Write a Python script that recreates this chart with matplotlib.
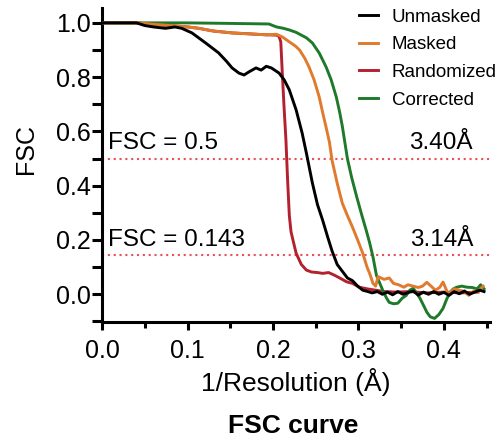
import matplotlib
matplotlib.use("Agg")
import matplotlib.pyplot as plt
from matplotlib.ticker import MultipleLocator

plt.rcParams['font.family'] = ['Liberation Sans', 'DejaVu Sans']

# ---- data ----
unmasked_x = [0, 0.04, 0.05, 0.06, 0.074, 0.085, 0.093, 0.105, 0.121, 0.136, 0.145, 0.152, 0.16,
              0.166, 0.172, 0.18, 0.186, 0.192, 0.198, 0.207, 0.213, 0.219, 0.227, 0.234, 0.239,
              0.246, 0.252, 0.258, 0.264, 0.269, 0.275, 0.281, 0.287, 0.293, 0.299, 0.305, 0.311,
              0.316, 0.322, 0.328, 0.334, 0.34, 0.346, 0.352, 0.358, 0.364, 0.37, 0.376, 0.382,
              0.388, 0.394, 0.4, 0.406, 0.412, 0.418, 0.424, 0.43, 0.436, 0.442, 0.447]
unmasked_y = [1.0, 1.0, 0.99, 0.985, 0.98, 0.985, 0.98, 0.963, 0.926, 0.89, 0.86, 0.834, 0.815,
              0.808, 0.82, 0.834, 0.826, 0.84, 0.834, 0.815, 0.79, 0.753, 0.679, 0.594, 0.52,
              0.41, 0.33, 0.273, 0.21, 0.16, 0.11, 0.085, 0.06, 0.05, 0.03, 0.015, 0.01,
              0.005, 0.01, 0.0, 0.008, -0.002, 0.01, 0.0, 0.006, 0.012, -0.003, 0.008, 0.0,
              0.01, 0.0, 0.007, -0.004, 0.01, 0.002, 0.012, 0.0, 0.008, 0.015, 0.01]

masked_x = [0, 0.04, 0.06, 0.08, 0.1, 0.113, 0.13, 0.152, 0.17, 0.192, 0.204, 0.211, 0.219,
            0.226, 0.231, 0.237, 0.242, 0.248, 0.254, 0.258, 0.262, 0.266, 0.269, 0.275, 0.281,
            0.287, 0.293, 0.299, 0.305, 0.31, 0.313, 0.317, 0.32, 0.323, 0.33, 0.336, 0.341,
            0.347, 0.353, 0.358, 0.364, 0.37, 0.375, 0.38, 0.385, 0.39, 0.395, 0.399, 0.405,
            0.412, 0.418, 0.424, 0.429, 0.435, 0.44, 0.446]
masked_y = [1.0, 1.0, 0.995, 0.99, 0.985, 0.98, 0.97, 0.963, 0.96, 0.956, 0.958, 0.948, 0.93,
            0.915, 0.90, 0.87, 0.838, 0.79, 0.727, 0.67, 0.616, 0.56, 0.494, 0.41, 0.336,
            0.29, 0.247, 0.2, 0.151, 0.1, 0.077, 0.04, 0.03, 0.065, 0.055, 0.06, 0.04,
            0.035, 0.026, 0.035, 0.03, 0.025, 0.03, 0.044, 0.03, 0.015, 0.025, 0.045, 0.0,
            0.02, 0.015, 0.01, -0.004, 0.012, 0.01, 0.03]

random_x = [0, 0.04, 0.06, 0.08, 0.1, 0.113, 0.13, 0.152, 0.17, 0.192, 0.204, 0.207, 0.209,
            0.211, 0.213, 0.215, 0.217, 0.219, 0.221, 0.224, 0.227, 0.233, 0.239, 0.245, 0.252,
            0.258, 0.265, 0.272, 0.278, 0.286, 0.293, 0.301, 0.31, 0.32, 0.33, 0.345, 0.36,
            0.38, 0.4, 0.42, 0.44]
random_y = [1.0, 1.0, 0.995, 0.99, 0.985, 0.98, 0.97, 0.963, 0.96, 0.956, 0.955, 0.95, 0.93,
            0.8, 0.68, 0.57, 0.42, 0.29, 0.23, 0.19, 0.151, 0.11, 0.089, 0.082, 0.08,
            0.077, 0.08, 0.07, 0.06, 0.046, 0.04, 0.026, 0.02, 0.015, 0.01, 0.008, 0.01,
            0.005, 0.008, 0.005, 0.008]

corrected_x = [0, 0.1, 0.15, 0.195, 0.204, 0.212, 0.219, 0.227, 0.239, 0.246, 0.254, 0.262,
               0.268, 0.274, 0.278, 0.281, 0.287, 0.292, 0.298, 0.304, 0.309, 0.313, 0.317,
               0.321, 0.325, 0.329, 0.333, 0.336, 0.341, 0.346, 0.351, 0.356, 0.36, 0.364,
               0.368, 0.372, 0.376, 0.38, 0.384, 0.389, 0.394, 0.399, 0.403, 0.407, 0.411,
               0.415, 0.421, 0.427, 0.433, 0.439, 0.443, 0.447]
corrected_y = [1.0, 1.0, 0.998, 0.996, 0.985, 0.98, 0.974, 0.965, 0.945, 0.926, 0.889, 0.838,
               0.79, 0.727, 0.67, 0.62, 0.50, 0.43, 0.358, 0.29, 0.236, 0.19, 0.137,
               0.07, 0.04, 0.01, -0.015, -0.03, -0.035, -0.033, -0.015, -0.004, 0.015, 0.022,
               0.005, -0.015, -0.04, -0.066, -0.083, -0.089, -0.075, -0.052, -0.02, 0.007, 0.02,
               0.026, 0.03, 0.026, 0.025, 0.02, 0.035, 0.02]

thresholds = [0.5, 0.143]
threshold_labels = ["FSC = 0.5", "FSC = 0.143"]
resolution_labels = ["3.40Å", "3.14Å"]
x_ticks = [0.0, 0.1, 0.2, 0.3, 0.4]
x_tick_labels = ["0.0", "0.1", "0.2", "0.3", "0.4"]
y_ticks = [0.0, 0.2, 0.4, 0.6, 0.8, 1.0]
y_tick_labels = ["0.0", "0.2", "0.4", "0.6", "0.8", "1.0"]

# ---- figure ----
fig = plt.figure(figsize=(4.99, 4.42), dpi=100)
ax = fig.add_axes([0.205, 0.271, 0.777, 0.711])

c_black = "#000000"
c_orange = "#E07A2C"
c_red = "#B3202E"
c_green = "#1E7A2A"
lw = 2.1

for t in thresholds:
    ax.axhline(t, color="#E8505A", linestyle=(0, (1, 1.8)), linewidth=1.5, zorder=1)

h_red, = ax.plot(random_x, random_y, color=c_red, lw=lw, label="Randomized", zorder=2)
h_green, = ax.plot(corrected_x, corrected_y, color=c_green, lw=lw, label="Corrected", zorder=3)
h_orange, = ax.plot(masked_x, masked_y, color=c_orange, lw=lw, label="Masked", zorder=4)
h_black, = ax.plot(unmasked_x, unmasked_y, color=c_black, lw=lw, label="Unmasked", zorder=5)

ax.set_xlim(0, 0.454)
ax.set_ylim(-0.103, 1.055)

ax.xaxis.set_minor_locator(MultipleLocator(0.05))
ax.yaxis.set_minor_locator(MultipleLocator(0.1))
ax.set_xticks(x_ticks)
ax.set_xticklabels(x_tick_labels)
ax.set_yticks(y_ticks)
ax.set_yticklabels(y_tick_labels)

for s in ["top", "right"]:
    ax.spines[s].set_visible(False)
for s in ["left", "bottom"]:
    ax.spines[s].set_linewidth(2.2)
    ax.spines[s].set_color("black")

ax.tick_params(axis="x", which="major", direction="out", length=6, width=2.2, labelsize=18, pad=6)
ax.tick_params(axis="x", which="minor", direction="out", length=4, width=2.2)
ax.tick_params(axis="y", which="both", direction="out", length=7, width=2.2, labelsize=18, pad=1.5)

ax.set_xlabel("1/Resolution (Å)", fontsize=19, labelpad=3.5)
ax.set_ylabel("FSC", fontsize=18)
ax.yaxis.set_label_coords(-0.165, 0.55)

for t, lab, res in zip(thresholds, threshold_labels, resolution_labels):
    ax.text(0.007, t + 0.018, lab, fontsize=17.5, ha="left", va="bottom")
    ax.text(0.434, t + 0.018, res, fontsize=17.5, ha="right", va="bottom")

ax.legend(handles=[h_black, h_orange, h_red, h_green], loc="upper left",
          bbox_to_anchor=(0.643, 1.022), frameon=False, fontsize=13.5,
          handlelength=1.0, handletextpad=0.75, labelspacing=0.56, borderaxespad=0)

fig.text(0.587, 0.037, "FSC curve", fontsize=19, fontweight="bold", ha="center", va="center")

fig.savefig("out.png", dpi=100)
